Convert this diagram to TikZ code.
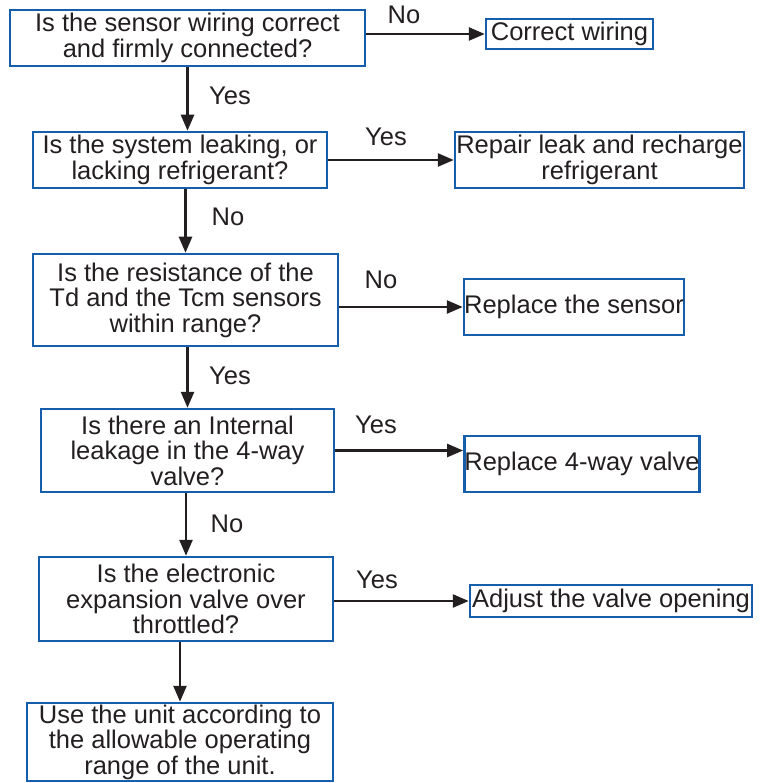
\documentclass[tikz,border=0pt]{standalone}
\usepackage{fontspec}
\setmainfont{Liberation Sans}
\usetikzlibrary{arrows.meta}
\definecolor{boxblue}{RGB}{22,94,171}
\definecolor{ink}{RGB}{35,31,32}
\begin{document}
\begin{tikzpicture}[x=1pt,y=-1pt,
  every node/.style={text=ink, font=\fontsize{25.5pt}{25.5pt}\selectfont},
  flowbox/.style={draw=boxblue, line width=2.5pt, inner sep=0pt, align=center, fill=white},
  arr/.style={draw=ink, line width=2.5pt, -{Triangle[length=16pt,width=13pt]}},
  lbl/.style={inner sep=0pt}]
\useasboundingbox (0,0) rectangle (765,783);
\fill[white] (0,0) rectangle (765,783);

% decision boxes (left column)
\node[flowbox, minimum width=355pt, minimum height=56pt] (b1) at (187.5,38) {Is the sensor wiring correct\\and firmly connected?};
\node[flowbox, minimum width=294pt, minimum height=56pt] (b2) at (180,160) {Is the system leaking, or\\lacking refrigerant?};
\node[flowbox, minimum width=305pt, minimum height=92pt] (b3) at (185.5,300) {Is the resistance of the\\Td and the Tcm sensors\\within range?};
\node[flowbox, minimum width=293pt, minimum height=83pt] (b4) at (187.5,450.5) {Is there an Internal\\leakage in the 4-way\\valve?};
\node[flowbox, minimum width=294pt, minimum height=84pt] (b5) at (186,599) {Is the electronic\\expansion valve over\\throttled?};
\node[flowbox, minimum width=306pt, minimum height=78pt] (b6) at (180,742) {Use the unit according to\\the allowable operating\\range of the unit.};

% action boxes (right column)
\node[flowbox, minimum width=167pt, minimum height=30pt] (c1) at (569.5,34) {Correct wiring};
\node[flowbox, minimum width=289pt, minimum height=56pt] (c2) at (599.5,160) {Repair leak and recharge\\refrigerant};
\node[flowbox, minimum width=220pt, minimum height=56pt] (c3) at (574,307) {Replace the sensor};
\node[flowbox, minimum width=232pt, minimum height=56pt] (c4) at (582,464) {Replace 4-way valve};
\node[flowbox, minimum width=282pt, minimum height=32pt] (c5) at (611,601) {Adjust the valve opening};

% horizontal connectors
\draw[arr] (b1.east |- c1.west) -- (c1.west);
\draw[arr] (b2.east) -- (c2.west);
\draw[arr] (b3.east |- c3.west) -- (c3.west);
\draw[arr] (b4.east) -- (b4.east -| c4.west);
\draw[arr] (b5.east |- c5.west) -- (c5.west);

% vertical connectors
\draw[arr] (b1.south) -- (b1.south |- b2.north);
\draw[arr] (b3.north |- b2.south) -- (b3.north);
\draw[arr] (b4.north |- b3.south) -- (b4.north);
\draw[arr] (b5.north |- b4.south) -- (b5.north);
\draw[arr] (b6.north |- b5.south) -- (b6.north);

% labels
\node[lbl] (l1) at (404,15) {No};
\node[lbl] (l2) at (230,96) {Yes};
\node[lbl] (l3) at (386,137) {Yes};
\node[lbl] (l4) at (228,217) {No};
\node[lbl] (l5) at (381,280) {No};
\node[lbl] (l6) at (230,376) {Yes};
\node[lbl] (l7) at (376,425) {Yes};
\node[lbl] (l8) at (227,524) {No};
\node[lbl] (l9) at (377,580) {Yes};
\end{tikzpicture}
\end{document}
